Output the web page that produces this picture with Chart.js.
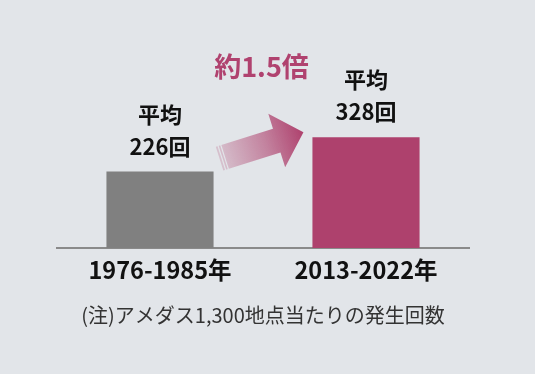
<!DOCTYPE html>
<html lang="ja">
<head>
    <meta charset="UTF-8">
    <title>発生回数</title>
    <script src="https://cdn.jsdelivr.net/npm/chart.js@4"></script>
    <style>
        body { margin: 0; background: #e2e5e9; }
        #wrap { width: 535px; height: 374px; }
    </style>
</head>
<body>
    <div id="wrap"><canvas id="chart" width="535" height="374"></canvas></div>

    <script>
        // data
        const periods = ['1976-1985年', '2013-2022年'];
        const averages = [226, 328];
        const barColors = ['#808080', '#ae416d'];
        const ratioLabel = '約1.5倍';
        const note = '(注)アメダス1,300地点当たりの発生回数';

        const FONT = '"Noto Sans CJK JP", "Noto Sans", sans-serif';

        // labels above bars + arrow between them
        const extras = {
            id: 'extras',
            afterDatasetsDraw(chart) {
                const ctx = chart.ctx;
                const bars = chart.getDatasetMeta(0).data;

                ctx.save();
                ctx.fillStyle = '#111';
                ctx.textAlign = 'center';
                ctx.textBaseline = 'alphabetic';
                ctx.font = 'bold 22px ' + FONT;
                bars.forEach((b, i) => {
                    ctx.fillText('平均', b.x, b.y - 49);
                    ctx.fillText(averages[i] + '回', b.x, b.y - 17);
                });

                // arrow
                const b0 = bars[0], b1 = bars[1];
                const x0 = b0.x + b0.width / 2 + 6, y0 = b0.y - 13;
                const x1 = b1.x - b1.width / 2 - 9, y1 = b1.y - 5;
                const len = Math.hypot(x1 - x0, y1 - y0);
                const ang = Math.atan2(y1 - y0, x1 - x0);
                const shaftW = 25, headW = 56, headL = 28;

                ctx.translate(x0, y0);
                ctx.rotate(ang);
                const g = ctx.createLinearGradient(0, 0, len, 0);
                g.addColorStop(0, 'rgba(174,65,109,0.22)');
                g.addColorStop(0.55, 'rgba(174,65,109,0.6)');
                g.addColorStop(1, 'rgba(174,65,109,1)');
                ctx.fillStyle = g;
                ctx.beginPath();
                ctx.moveTo(0, -shaftW / 2);
                ctx.lineTo(len - headL, -shaftW / 2);
                ctx.lineTo(len - headL, -headW / 2);
                ctx.lineTo(len, 0);
                ctx.lineTo(len - headL, headW / 2);
                ctx.lineTo(len - headL, shaftW / 2);
                ctx.lineTo(0, shaftW / 2);
                ctx.closePath();
                ctx.fill();

                // stripes at tail
                ctx.strokeStyle = '#e2e5e9';
                ctx.lineWidth = 1.2;
                [2.4, 5.2].forEach(d => {
                    ctx.beginPath();
                    ctx.moveTo(d, -shaftW / 2 - 1);
                    ctx.lineTo(d, shaftW / 2 + 1);
                    ctx.stroke();
                });
                ctx.restore();

                // ratio text
                ctx.save();
                ctx.fillStyle = '#b0426f';
                ctx.textAlign = 'center';
                ctx.textBaseline = 'middle';
                ctx.font = 'bold 27px ' + FONT;
                ctx.fillText(ratioLabel, (x0 + x1) / 2, 67);
                ctx.restore();
            }
        };

        const chart = new Chart(document.getElementById('chart'), {
            type: 'bar',
            data: {
                labels: periods,
                datasets: [{
                    data: averages,
                    backgroundColor: barColors,
                    borderWidth: 0,
                    barPercentage: 0.52,
                    categoryPercentage: 1.0
                }]
            },
            options: {
                responsive: false,
                animation: false,
                layout: { padding: { top: 79, left: 57, right: 66, bottom: 0 } },
                plugins: {
                    legend: { display: false },
                    tooltip: { enabled: false },
                    title: {
                        display: true,
                        position: 'bottom',
                        text: note,
                        color: '#333',
                        font: { family: FONT, size: 20, weight: 'normal' },
                        padding: { top: 6, bottom: 47 }
                    }
                },
                scales: {
                    x: {
                        grid: { display: false, drawTicks: false },
                        border: { display: true, color: '#8a8a8a', width: 2 },
                        ticks: {
                            color: '#111',
                            font: { family: FONT, size: 23.5, weight: 'bold' },
                            padding: 8
                        },
                        afterFit: (s) => { s.height = 49; }
                    },
                    y: { display: false, min: 0, max: 500 }
                }
            },
            plugins: [extras]
        });
    </script>
</body>
</html>
